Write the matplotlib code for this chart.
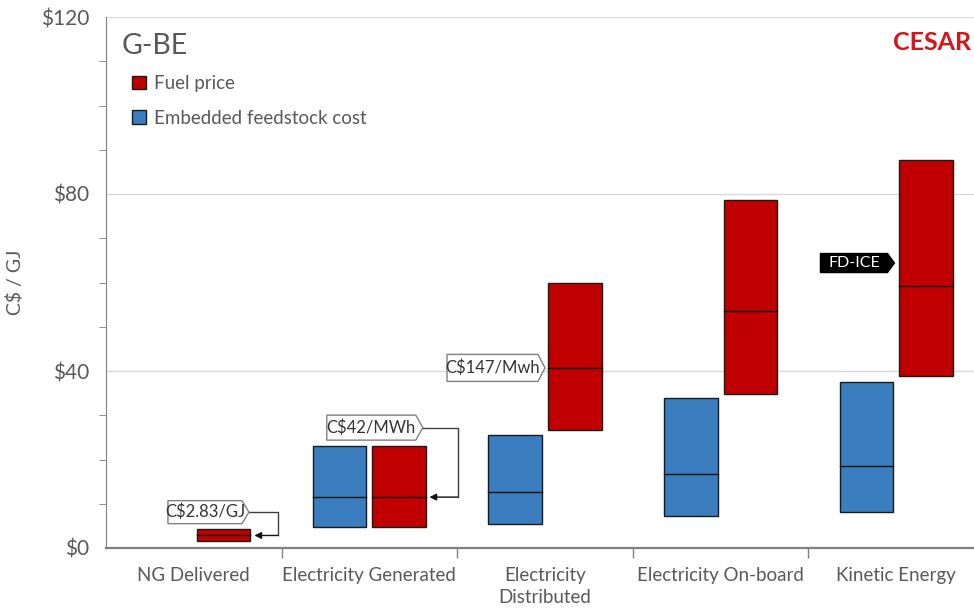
import numpy as np
import matplotlib
matplotlib.use('Agg')
import matplotlib.pyplot as plt
from matplotlib.patches import Patch, Polygon
from matplotlib.transforms import ScaledTranslation

plt.rcParams['font.family'] = ['Lato', 'DejaVu Sans']

categories = ['NG Delivered', 'Electricity Generated', 'Electricity\nDistributed',
              'Electricity On-board', 'Kinetic Energy']

# floating ranges (low, mid, high) in C$/GJ; None where there is no bar
feed_low = [None, 4.7, 5.4, 7.2, 8.1]
feed_mid = [None, 11.5, 12.7, 16.7, 18.5]
feed_high = [None, 23.0, 25.5, 33.9, 37.5]

fuel_low = [1.6, 4.7, 26.7, 34.8, 38.9]
fuel_mid = [2.83, 11.5, 40.7, 53.6, 59.2]
fuel_high = [4.3, 23.0, 59.9, 78.6, 87.7]

RED = '#C00000'
BLUE = '#3A7EBF'
GREY = '#595959'

fig = plt.figure(figsize=(9.74, 6.11), dpi=100)
ax = fig.add_axes([106 / 974, 1 - 548 / 611, 878 / 974, 531 / 611])

x = np.arange(len(categories))
w = 0.305
off = 0.17


def draw_range(xs, lows, mids, highs, color):
    for xi, lo, md, hi in zip(xs, lows, mids, highs):
        if lo is None:
            continue
        ax.bar(xi, hi - lo, bottom=lo, width=w, color=color,
               edgecolor='#1a1a1a', linewidth=1.0, zorder=3)
        ax.plot([xi - w / 2, xi + w / 2], [md, md], color='#111111', lw=1.0, zorder=4)


draw_range(x - off, feed_low, feed_mid, feed_high, BLUE)
draw_range(x + off, fuel_low, fuel_mid, fuel_high, RED)


def tag(xt, yt, text, wpx, hpx, face='white', edge='#808080', tc='#333333', fs=12):
    # pentagon callout whose right tip sits at (xt, yt) in data units
    tip = 7 / 100
    wi, hi = wpx / 100, hpx / 100
    verts = [(-wi, -hi / 2), (-tip, -hi / 2), (0, 0), (-tip, hi / 2), (-wi, hi / 2)]
    tr = fig.dpi_scale_trans + ScaledTranslation(xt, yt, ax.transData)
    ax.add_patch(Polygon(verts, closed=True, transform=tr, facecolor=face,
                         edgecolor=edge, lw=1.0, zorder=6, clip_on=False))
    ax.text(-(wi + tip) / 2, 0, text, transform=tr, ha='center', va='center',
            color=tc, fontsize=fs, zorder=7)


def elbow(x0, y0, xc, y1, x1):
    ax.plot([x0, xc, xc], [y0, y0, y1], color='#404040', lw=1.0, zorder=5)
    ax.annotate('', xy=(x1, y1), xytext=(xc, y1),
                arrowprops=dict(arrowstyle='-|>', color='#111111', lw=1.0,
                                shrinkA=0, shrinkB=0, mutation_scale=10), zorder=5)


tag(0.314, 8.1, 'C\\$2.83/GJ', 81, 23)
elbow(0.314, 8.1, 0.479, fuel_mid[0], 0.345)

tag(1.304, 27.2, 'C\\$42/MWh', 96, 25)
elbow(1.304, 27.2, 1.503, fuel_mid[1], 1.342)

tag(2.0, fuel_mid[2], 'C\\$147/Mwh', 98, 27)

tag(3.99, 64.4, 'FD-ICE', 74, 19, face='black', edge='black', tc='white', fs=11.5)

# axes styling
ax.set_xlim(-0.5, 4.5)
ax.set_ylim(0, 120)
ax.set_yticks([0, 40, 80, 120])
ax.set_yticklabels(['\\$%d' % v for v in [0, 40, 80, 120]])
ax.set_yticks(np.arange(0, 121, 10), minor=True)
ax.grid(axis='y', which='major', color='#d9d9d9', lw=1.0, zorder=0)
ax.tick_params(axis='y', which='major', length=0, labelsize=15, labelcolor=GREY, pad=12)
ax.tick_params(axis='y', which='minor', length=5, color='#808080', direction='out')

ax.set_xticks(x + 0.5)
ax.set_xticklabels([])
ax.set_xticks(x, minor=True)
ax.set_xticklabels(categories, minor=True, linespacing=1.35)
ax.tick_params(axis='x', which='major', length=7, color='#808080', width=1.0)
ax.tick_params(axis='x', which='minor', length=0, labelsize=13.5, labelcolor=GREY, pad=14)

for s in ['top', 'right']:
    ax.spines[s].set_visible(False)
ax.spines['left'].set_color('#808080')
ax.spines['bottom'].set_color('#808080')
ax.spines['bottom'].set_linewidth(1.6)

ax.set_ylabel('C\\$ / GJ', fontsize=14, color=GREY, labelpad=12)

ax.text(0.018, 0.97, 'G-BE', transform=ax.transAxes, fontsize=20.5, color=GREY,
        va='top', ha='left')

handles = [Patch(facecolor=RED, edgecolor='#1a1a1a', lw=1.0),
           Patch(facecolor=BLUE, edgecolor='#1a1a1a', lw=1.0)]
ax.legend(handles, ['Fuel price', 'Embedded feedstock cost'], loc='upper left',
          bbox_to_anchor=(0.021, 0.905), frameon=False, fontsize=13.5,
          handlelength=0.75, handleheight=0.75, handletextpad=0.4,
          labelspacing=0.95, labelcolor=GREY, borderaxespad=0)

fig.text(0.997, 1 - 43 / 611, 'CESAR', ha='right', va='center', fontsize=18,
         color='#D7141A', fontweight='bold')

fig.savefig('out.png', dpi=100)
